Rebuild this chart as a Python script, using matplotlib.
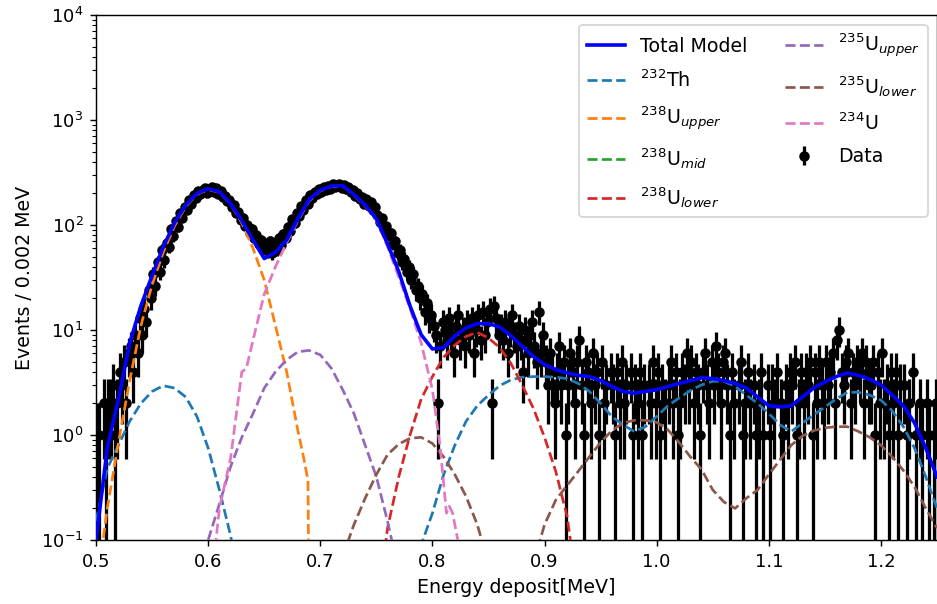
import numpy as np
import matplotlib
matplotlib.use("Agg")
import matplotlib.pyplot as plt

# ---------------- data (counts per 0.002 MeV bin, bins from 0.500 to 1.250) ----------------
bin_lo, bin_w = 0.500, 0.002
counts_a = [1, 1, 0, 2, 1, 2, 2, 3, 1, 2, 4, 3, 5, 2, 6, 7, 4, 9, 6, 13, 9, 16, 12, 24, 20]
counts_b = [34, 26, 44, 36, 58, 46, 68, 62, 92, 78,
            110, 96, 130, 118, 150, 138, 172, 160, 194, 182,
            210, 196, 214, 226, 204, 218, 232, 208, 226, 198,
            212, 186, 190, 170, 174, 150, 156, 130, 134, 112,
            118, 98, 100, 84, 92, 76, 80, 66, 72, 60]
counts_c = [64, 56, 70, 54, 66, 58, 76, 64, 82, 76,
            96, 88, 114, 104, 130, 122, 152, 140, 172, 160,
            194, 182, 206, 196, 220, 206, 230, 214, 238, 222,
            244, 228, 236, 248, 226, 240, 222, 230, 206, 214,
            190, 200, 176, 184, 160, 178, 152, 166, 140, 150]
counts_d = [126, 108, 116, 92, 98, 80, 84, 66, 70, 54, 58, 44, 48, 36, 40,
            30, 34, 24, 26, 20, 22, 15, 18, 13, 14]
counts_e = [11, 9, 2, 7, 12, 10, 8, 13, 9, 6,
            11, 14, 8, 10, 7, 12, 9, 13, 6, 10,
            14, 8, 15, 9, 12, 16, 2, 17, 13, 9,
            11, 8, 12, 6, 10, 14, 9, 7, 11, 8,
            4, 10, 6, 9, 12, 7, 5, 15, 6, 9]
counts_f = [5, 3, 6, 4, 2, 4, 7, 3, 5, 1, 3, 6, 4, 2, 5, 8, 3, 1, 5, 4,
            2, 6, 3, 4, 1, 5, 2, 3, 0, 4, 3, 1, 4, 2, 5, 2, 3, 0, 4, 1,
            3, 2, 4, 1, 3, 0, 3, 2, 5, 2, 4, 1, 3, 2, 0, 3, 5, 2, 4, 1,
            2, 4, 3, 6, 3, 5, 2, 4, 3, 1, 4, 6, 3, 2, 5, 3, 7, 4, 2, 5,
            6, 3, 1, 4, 2, 0, 3, 5, 1, 2, 4, 2, 0, 3, 1, 2, 4, 1, 0, 3,
            1, 3, 2, 4, 0, 2, 1, 3, 2, 4, 3, 5, 1, 2, 4, 2, 4, 3, 5, 1,
            4, 2, 5, 3, 2, 5, 3, 4, 6, 2, 8, 10, 4, 3, 5, 6, 2, 4, 3, 5,
            4, 6, 2, 5, 3, 3, 5, 1, 4, 2, 6, 2, 3, 1, 4, 2, 4, 1, 3, 0,
            3, 1, 2, 0, 4, 1, 0, 2, 1, 0, 2, 1, 0, 1, 2]
counts = counts_a + counts_b + counts_c + counts_d + counts_e + counts_f

# ---------------- model curves (sampled every 0.01 MeV unless x given) ----------------
total_start = 0.50
total_model = [0.1, 0.75, 2.2, 7.5, 17, 33, 62, 105, 155, 200,
               222, 208, 160, 110, 72, 48, 55, 72, 115, 175,
               215, 236, 238, 195, 155, 115, 66, 36, 17, 9,
               6.6, 6.8, 8.8, 10.5, 11.5, 11.5, 10.7, 8.8, 7.0, 5.6,
               4.7, 4.2, 3.9, 3.7, 3.6, 3.3, 2.9, 2.6, 2.5, 2.6,
               2.7, 2.9, 3.1, 3.3, 3.5, 3.45, 3.3, 3.1, 2.8, 2.3,
               1.9, 1.85, 1.9, 2.3, 2.8, 3.2, 3.6, 3.9, 3.7, 3.4,
               3.0, 2.4, 1.9, 1.3, 0.75, 0.4]

th232_start = 0.50
th232 = [0.15, 0.48, 0.8, 1.35, 2.0, 2.6, 2.95, 2.8, 2.3, 1.5,
         0.75, 0.3, 0.11, 0.03, 0.005, 0.001, 0.001, 0.001, 0.001, 0.001,
         0.001, 0.001, 0.001, 0.001, 0.001, 0.001, 0.001, 0.001, 0.02, 0.09,
         0.18, 0.42, 0.8, 1.35, 1.9, 2.4, 2.95, 3.35, 3.55, 3.6,
         3.6, 3.55, 3.45, 3.1, 2.6, 2.0, 1.5, 1.25, 1.08, 1.2,
         1.5, 1.9, 2.25, 2.65, 3.0, 3.25, 3.25, 2.9, 2.4, 2.0,
         1.6, 1.25, 1.08, 1.3, 1.55, 1.85, 2.2, 2.55, 2.55, 2.4,
         2.15, 1.7, 1.2, 0.75, 0.4, 0.2]

u238_upper_x = [0.50, 0.51, 0.52, 0.53, 0.54, 0.55, 0.56, 0.57, 0.58, 0.59,
                0.60, 0.61, 0.62, 0.63, 0.64, 0.65, 0.66, 0.67, 0.68, 0.685,
                0.689, 0.691]
u238_upper = [0.03, 0.2, 0.85, 3.3, 11, 27, 55, 98, 150, 196,
              218, 205, 158, 105, 60, 30, 11, 4.0, 1.1, 0.62,
              0.37, 0.001]

u238_mid_start = 0.50
u238_mid = [0.001, 0.001]

u238_lower_start = 0.75
u238_lower = [0.02, 0.13, 0.4, 1.0, 2.2, 3.6, 5.5, 7.2, 8.7, 9.5,
              8.4, 6.8, 4.8, 3.0, 1.8, 0.95, 0.45, 0.17, 0.03]

u235_upper_start = 0.60
u235_upper = [0.1, 0.22, 0.5, 0.95, 1.6, 2.8, 4.0, 5.2, 6.2, 6.4,
              5.8, 4.3, 2.7, 1.6, 0.8, 0.4, 0.15, 0.05]

u235_lower_start = 0.72
u235_lower = [0.07, 0.14, 0.25, 0.42, 0.65, 0.82, 0.93, 0.95, 0.83, 0.62,
              0.42, 0.26, 0.14, 0.06, 0.01, 0.005, 0.01, 0.06, 0.14, 0.24,
              0.33, 0.45, 0.62, 0.85, 1.1, 1.3, 1.38, 1.38, 1.32, 1.12,
              0.85, 0.62, 0.47, 0.3, 0.23, 0.2, 0.25, 0.3, 0.42, 0.58,
              0.8, 0.98, 1.1, 1.17, 1.2, 1.2, 1.08, 0.95, 0.8, 0.62,
              0.46, 0.32, 0.2, 0.13]

u234_x = [0.60, 0.61, 0.62, 0.63, 0.634, 0.64, 0.65, 0.66, 0.67, 0.68,
          0.69, 0.70, 0.71, 0.72, 0.73, 0.74, 0.75, 0.76, 0.77, 0.78,
          0.79, 0.80, 0.807, 0.8125, 0.815, 0.818, 0.8226, 0.83]
u234 = [0.02, 0.2, 0.6, 4.0, 4.3, 8, 22, 40, 68, 110,
        170, 212, 233, 236, 193, 152, 112, 62, 32, 16,
        7.5, 2.7, 0.75, 0.18, 0.21, 0.18, 0.1, 0.02]

legend_labels = ["Total Model", r"$^{232}$Th", r"$^{238}$U$_{upper}$", r"$^{238}$U$_{mid}$",
                 r"$^{238}$U$_{lower}$", r"$^{235}$U$_{upper}$", r"$^{235}$U$_{lower}$",
                 r"$^{234}$U", "Data"]


def grid(start, vals):
    return start + 0.01 * np.arange(len(vals))


fig = plt.figure(figsize=(937 / 130, 604 / 130), dpi=130)
ax = fig.add_axes([0.1025, 0.106, 0.8975, 0.869])

counts_arr = np.array(counts, dtype=float)
centers = bin_lo + bin_w * (np.arange(len(counts_arr)) + 0.5)
m = counts_arr > 0
hd = ax.errorbar(centers[m], counts_arr[m], yerr=np.sqrt(counts_arr[m]), fmt='o',
                 color='black', markersize=4.8, elinewidth=1.8, capsize=0, zorder=1)

h_tot, = ax.plot(grid(total_start, total_model), total_model, color='blue', lw=2.0, zorder=5)
dash = dict(ls='--', lw=1.5, zorder=4)
h_th, = ax.plot(grid(th232_start, th232), th232, color='C0', **dash)
h_uu, = ax.plot(u238_upper_x, u238_upper, color='C1', **dash)
h_um, = ax.plot(grid(u238_mid_start, u238_mid), u238_mid, color='C2', **dash)
h_ul, = ax.plot(grid(u238_lower_start, u238_lower), u238_lower, color='C3', **dash)
h_5u, = ax.plot(grid(u235_upper_start, u235_upper), u235_upper, color='C4', **dash)
h_5l, = ax.plot(grid(u235_lower_start, u235_lower), u235_lower, color='C5', **dash)
h_4, = ax.plot(u234_x, u234, color='C6', **dash)

ax.set_yscale('log')
ax.set_xlim(0.5, 1.25)
ax.set_ylim(0.1, 1e4)
ax.set_xticks([0.5, 0.6, 0.7, 0.8, 0.9, 1.0, 1.1, 1.2])
ax.set_xlabel("Energy deposit[MeV]", fontsize=10.5)
ax.set_ylabel("Events / 0.002 MeV", fontsize=10.5)
ax.tick_params(labelsize=10)

ax.legend([h_tot, h_th, h_uu, h_um, h_ul, h_5u, h_5l, h_4, hd], legend_labels,
          ncol=2, loc='upper right', fontsize=10.5, labelspacing=0.72)

fig.savefig("out.png", dpi=130)
